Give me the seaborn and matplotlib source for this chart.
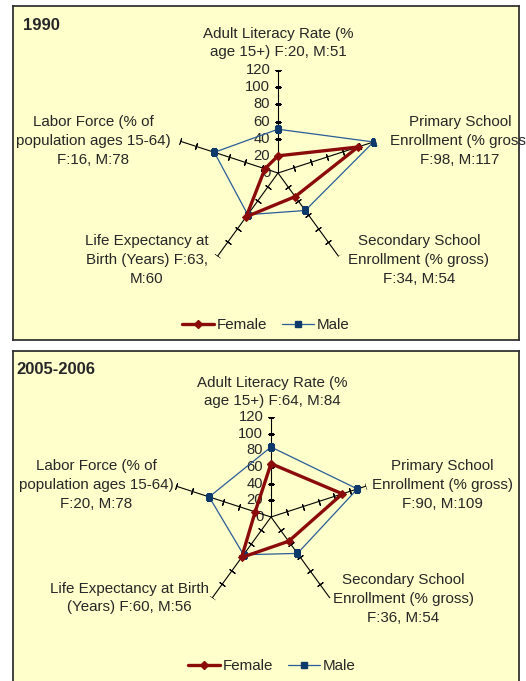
import numpy as np
import matplotlib
matplotlib.use("Agg")
import matplotlib.pyplot as plt
import seaborn as sns
from matplotlib.lines import Line2D

# 데이터
categories = ["Adult Literacy Rate", "Primary School Enrollment", "Secondary School Enrollment",
              "Life Expectancy at Birth", "Labor Force"]
titles = ["1990", "2005-2006"]
female_1990 = [20, 98, 34, 63, 16]
male_1990 = [51, 117, 54, 60, 78]
female_2005 = [64, 90, 36, 60, 20]
male_2005 = [84, 109, 54, 56, 78]
r_ticks = [0, 20, 40, 60, 80, 100, 120]

# 축 라벨 (패널마다 줄바꿈이 다름)
labels_1990 = ["Adult Literacy Rate (%\nage 15+) F:{f}, M:{m}",
               "Primary School\nEnrollment (% gross)\nF:{f}, M:{m}",
               "Secondary School\nEnrollment (% gross)\nF:{f}, M:{m}",
               "Life Expectancy at\nBirth (Years) F:{f},\nM:{m}",
               "Labor Force (% of\npopulation ages 15-64)\nF:{f}, M:{m}"]
labels_2005 = ["Adult Literacy Rate (%\nage 15+) F:{f}, M:{m}",
               "Primary School\nEnrollment (% gross)\nF:{f}, M:{m}",
               "Secondary School\nEnrollment (% gross)\nF:{f}, M:{m}",
               "Life Expectancy at Birth\n(Years) F:{f}, M:{m}",
               "Labor Force (% of\npopulation ages 15-64)\nF:{f}, M:{m}"]

sns.set_style("white")
plt.rcParams['font.family'] = ['Liberation Sans', 'DejaVu Sans']

W, H = 526, 681
fig = plt.figure(figsize=(W / 100, H / 100), dpi=100)
fig.patch.set_facecolor("white")

BG = "#FFFFCC"
F_COL = "#8B0A0A"
M_LINE = "#2A5C97"
M_MARK = "#0E3A6B"
FS = 10.9


def fx(x):
    return x / W


def fy(y):
    return 1 - y / H


# 패널 설정: 박스(top,bottom), 중심, 반지름, 라벨 위치, 범례
panels = [
    dict(title=titles[0], female=female_1990, male=male_1990, labels=labels_1990,
         box=(13, 6, 519, 340), center=(278, 173), radius=103, title_xy=(23, 25),
         label_xy=[(278, 43), (460, 141), (419, 260), (147, 260), (93, 141)],
         legend_xy=(266, 325)),
    dict(title=titles[1], female=female_2005, male=male_2005, labels=labels_2005,
         box=(13, 351, 519, 695), center=(271, 517), radius=100, title_xy=(16, 370),
         label_xy=[(272, 392), (442, 485), (403, 599), (129, 598), (96, 485)],
         legend_xy=(272, 666)),
]

n = len(categories)
angles = np.linspace(0, 2 * np.pi, n + 1)

for p in panels:
    x0, y0, x1, y1 = p["box"]
    bg = fig.add_axes([fx(x0), fy(y1), fx(x1 - x0), (y1 - y0) / H])
    bg.set_facecolor(BG)
    bg.set_xticks([])
    bg.set_yticks([])
    for s in bg.spines.values():
        s.set_color("#333333")
        s.set_linewidth(1.3)

    cx, cy = p["center"]
    r = p["radius"]
    ax = fig.add_axes([fx(cx - r), fy(cy + r), 2 * r / W, 2 * r / H], projection="polar")
    ax.set_theta_offset(np.pi / 2)
    ax.set_theta_direction(-1)
    ax.set_ylim(0, 120)
    ax.set_axis_off()

    # 축 (spoke) + 눈금
    for i in range(n):
        th = angles[i]
        ax.plot([th, th], [0, 120], color="black", lw=0.8, zorder=1)
        rot = 90 - np.degrees(th)
        ax.plot([th] * 6, r_ticks[1:], ls="none", marker=(2, 2, rot), ms=5,
                mec="black", mew=0.8, zorder=1)

    for v in r_ticks:
        ax.annotate(str(v), xy=(0, v), xytext=(-5.5, 0), textcoords="offset points",
                    ha="right", va="center", fontsize=10.6, zorder=0)

    # 데이터 다각형
    fvals = p["female"] + p["female"][:1]
    mvals = p["male"] + p["male"][:1]
    sns.lineplot(x=angles, y=mvals, sort=False, estimator=None, ax=ax, color=M_LINE,
                 lw=0.9, marker="s", ms=5, mfc=M_MARK, mec=M_MARK, zorder=3)
    sns.lineplot(x=angles, y=fvals, sort=False, estimator=None, ax=ax, color=F_COL,
                 lw=2.4, marker="D", ms=4, mfc=F_COL, mec=F_COL, zorder=4)

    # 카테고리 라벨
    for i in range(n):
        txt = p["labels"][i].format(f=p["female"][i], m=p["male"][i])
        lx, ly = p["label_xy"][i]
        fig.text(fx(lx), fy(ly), txt, ha="center", va="center", fontsize=FS,
                 linespacing=1.45, multialignment="center")

    tx, ty = p["title_xy"]
    fig.text(fx(tx), fy(ty), p["title"], ha="left", va="center", fontsize=12,
             fontweight="bold")

    handles = [Line2D([], [], color=F_COL, lw=2.4, marker="D", ms=4),
               Line2D([], [], color=M_LINE, lw=0.9, marker="s", ms=5, mfc=M_MARK, mec=M_MARK)]
    lx, ly = p["legend_xy"]
    fig.legend(handles, ["Female", "Male"], loc="center", bbox_to_anchor=(fx(lx), fy(ly)),
               ncol=2, frameon=False, fontsize=FS, handlelength=2.1, handletextpad=0.2,
               columnspacing=1.0)

fig.savefig("out.png", dpi=100)
